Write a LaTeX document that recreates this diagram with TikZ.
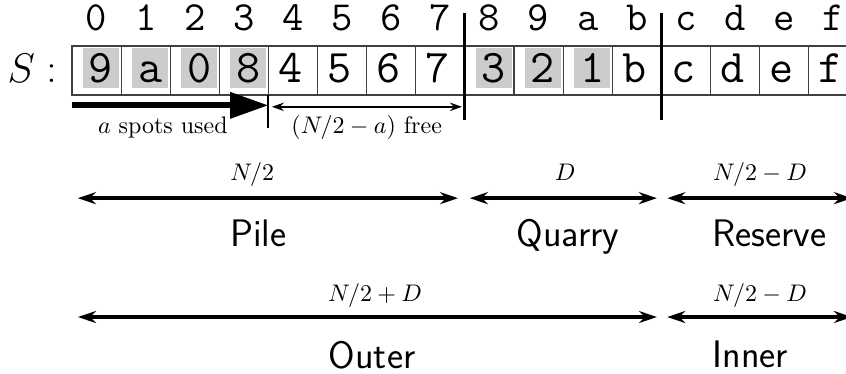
\documentclass[tikz,border=0pt]{standalone}
\usepackage{amsmath}
\usepackage{amssymb}
\usepackage{tikz}
\usetikzlibrary{arrows.meta,positioning}
\tikzset{
  cellbox/.style={draw=black!75, line width=0.5pt},
  usedbox/.style={fill=black!20},
  idxlabel/.style={anchor=base, font=\LARGE\ttfamily, inner sep=0pt},
  valtext/.style={anchor=base, font=\fontsize{19.5}{22}\selectfont\ttfamily, inner sep=0pt},
  plaintext/.style={anchor=base, inner sep=0pt},
  divider/.style={line width=1.2pt},
  splitline/.style={line width=0.8pt},
  usedarrow/.style={line width=2.5pt, -{Triangle[length=16pt,width=10.5pt]}},
  freearrow/.style={line width=0.7pt, {Stealth[length=5pt,width=3.5pt]}-{Stealth[length=5pt,width=3.5pt]}},
  spanarrow/.style={line width=1.6pt, {Stealth[length=7.5pt,width=5pt]}-{Stealth[length=7.5pt,width=5pt]}},
  spanlabel/.style={anchor=base, font=\normalsize, inner sep=0pt},
  regionname/.style={anchor=base, font=\fontsize{16}{19}\selectfont\sffamily, inner sep=0pt},
}
\begin{document}
\begin{tikzpicture}[x=0.72cm, y=0.72cm]
      \useasboundingbox (-1.466,-5.66) rectangle (15.76,1.935);

      % the array S
      \node[plaintext, font=\LARGE] (arrname) at (-0.81,0.26) {$S:$};
      \foreach \i in {0,1,2,3,8,9,10}
          \fill[usedbox] (\i+0.22,0.14) rectangle (\i+0.96,0.96);
      \foreach \i in {0,...,15}
          \draw[cellbox] (\i,0) rectangle ++(1,1);
      \foreach \i/\h in {0/0,1/1,2/2,3/3,4/4,5/5,6/6,7/7,8/8,9/9,10/a,11/b,12/c,13/d,14/e,15/f}
          \node[idxlabel] (idx\i) at (\i+0.5,1.32) {\h};
      \foreach \i/\v in {0/9,1/a,2/0,3/8,8/3,9/2,10/1}
          \node[valtext] (val\i) at (\i+0.59,0.25) {\v};
      \foreach \i/\v in {4/4,5/5,6/6,7/7,11/b,12/c,13/d,14/e,15/f}
          \node[valtext] (val\i) at (\i+0.45,0.25) {\v};

      % region borders
      \draw[divider] (8,1.67) -- (8,-0.5);
      \draw[divider] (12,1.67) -- (12,-0.5);
      \draw[splitline] (4,0) -- (4,-0.67);

      % used / free part of the pile
      \coordinate (usedL) at (0,-0.21);
      \coordinate (usedR) at (4,-0.21);
      \coordinate (freeL) at (4.07,-0.24);
      \coordinate (freeR) at (7.94,-0.24);
      \draw[usedarrow] (usedL) -- (usedR);
      \draw[freearrow] (freeL) -- (freeR);
      \node[plaintext] (usedtxt) at (1.85,-0.79) {$a$ spots used};
      \node[plaintext] (freetxt) at (6.0,-0.79) {$(N/2-a)$ free};

      % pile, quarry, reserve
      \coordinate (pileL) at (0.12,-2.1);
      \coordinate (pileR) at (7.86,-2.1);
      \coordinate (quarL) at (8.1,-2.1);
      \coordinate (quarR) at (11.91,-2.1);
      \coordinate (resvL) at (12.12,-2.1);
      \coordinate (resvR) at (15.88,-2.1);
      \draw[spanarrow] (pileL) -- (pileR);
      \draw[spanarrow] (quarL) -- (quarR);
      \draw[spanarrow] (resvL) -- (resvR);
      \node[spanlabel] (pilelen) at (3.67,-1.74) {$N/2$};
      \node[spanlabel] (quarlen) at (10.04,-1.74) {$D$};
      \node[spanlabel] (resvlen) at (14.01,-1.74) {$N/2-D$};
      \node[regionname] (pile) at (3.79,-3.08) {Pile};
      \node[regionname] (quarry) at (10.1,-3.08) {Quarry};
      \node[regionname] (reserve) at (14.2,-3.08) {Reserve};

      % outer, inner
      \coordinate (outL) at (0.12,-4.52);
      \coordinate (outR) at (11.91,-4.52);
      \coordinate (innL) at (12.12,-4.52);
      \coordinate (innR) at (15.88,-4.52);
      \draw[spanarrow] (outL) -- (outR);
      \draw[spanarrow] (innL) -- (innR);
      \node[spanlabel] (outlen) at (6.17,-4.21) {$N/2+D$};
      \node[spanlabel] (innlen) at (14.01,-4.21) {$N/2-D$};
      \node[regionname] (outer) at (6.11,-5.56) {Outer};
      \node[regionname] (inner) at (13.81,-5.55) {Inner};

\end{tikzpicture}
\end{document}
